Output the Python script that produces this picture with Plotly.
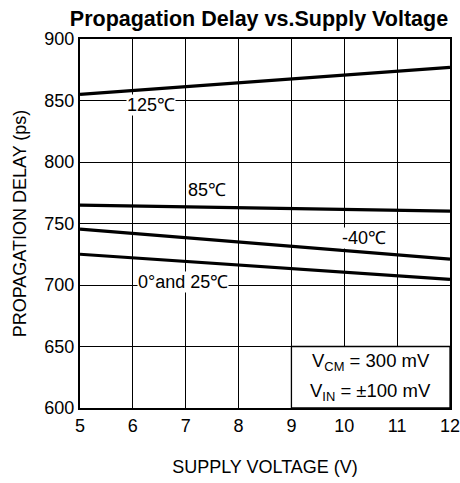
import plotly.graph_objects as go

voltage = [5, 12]
d125 = [855, 877]
d85 = [765, 760]
dm40 = [745.5, 721]
d0_25 = [725, 704.5]

x_ticks = [5, 6, 7, 8, 9, 10, 11, 12]
y_ticks = [600, 650, 700, 750, 800, 850, 900]

FONT = "Arial, Liberation Sans, sans-serif"
FS = 18

fig = go.Figure()
for ys in [d125, d85, dm40, d0_25]:
    fig.add_trace(go.Scatter(x=voltage, y=ys, mode="lines",
                             line=dict(color="black", width=3.2),
                             showlegend=False, hoverinfo="skip"))

# info box (white, bordered)
fig.add_shape(type="rect", x0=9, x1=12, y0=600, y1=650, xref="x", yref="y",
              fillcolor="white", line=dict(color="black", width=1.3), layer="above")

tf = dict(family=FONT, size=FS, color="black")
ann_bg = dict(bgcolor="white", borderpad=0, showarrow=False, font=tf)
fig.add_annotation(x=6.34, y=846, text="125℃", **ann_bg)
fig.add_annotation(x=7.40, y=777, text="85℃", showarrow=False, font=tf)
fig.add_annotation(x=10.37, y=738, text="-40℃", **ann_bg)
fig.add_annotation(x=6.95, y=702.5, text="0°and 25℃", **ann_bg)
bf = dict(family=FONT, size=18.5, color="black")
fig.add_annotation(x=10.5, y=637, text="V<sub>CM</sub> = 300 mV", showarrow=False, font=bf)
fig.add_annotation(x=10.5, y=613, text="V<sub>IN</sub> = ±100 mV", showarrow=False, font=bf)

fig.update_layout(
    width=460, height=483,
    margin=dict(l=80, r=10, t=39, b=75, autoexpand=False),
    paper_bgcolor="white", plot_bgcolor="white",
    title=dict(text="<b>Propagation Delay vs.Supply Voltage</b>",
               font=dict(family=FONT, size=21.5, color="black"),
               x=0.563, xanchor="center", y=0.978, yanchor="top"),
    font=tf,
)
fig.update_xaxes(range=[5, 12], tickvals=x_ticks, ticktext=[str(v) for v in x_ticks],
                 showgrid=True, gridcolor="black", gridwidth=1.3,
                 showline=True, linecolor="black", linewidth=2, mirror=True,
                 ticks="", zeroline=False, automargin=False, ticklabeloverflow="allow",
                 title=dict(text="SUPPLY VOLTAGE (V)", font=tf, standoff=26),
                 tickfont=tf)
fig.update_yaxes(range=[600, 900], tickvals=y_ticks, ticktext=[str(v) for v in y_ticks],
                 showgrid=True, gridcolor="black", gridwidth=1.3,
                 showline=True, linecolor="black", linewidth=2, mirror=True,
                 ticks="", zeroline=False, automargin=False, ticklabeloverflow="allow",
                 title=dict(text="PROPAGATION DELAY (ps)", font=tf, standoff=13),
                 tickfont=tf)

fig.write_html("out.html", config={"displayModeBar": False},
               post_script="document.body.style.margin='0';")
